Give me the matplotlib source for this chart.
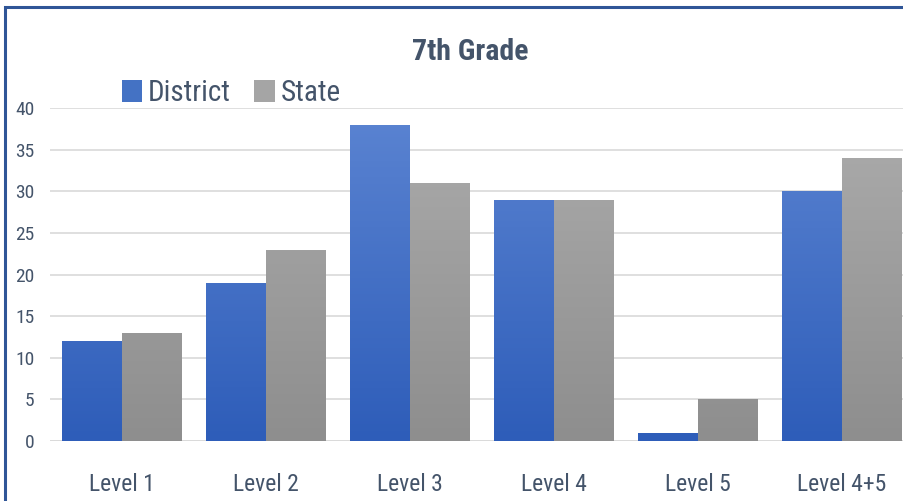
import numpy as np
import matplotlib
matplotlib.use('Agg')
import matplotlib.pyplot as plt
from matplotlib.patches import Rectangle

levels = ['Level 1', 'Level 2', 'Level 3', 'Level 4', 'Level 5', 'Level 4+5']
district = [12, 19, 38, 29, 1, 30]
state = [13, 23, 31, 29, 5, 34]

W, H = 904, 501

# the original uses a squeezed Calibri; Roboto Condensed is the nearest installed
plt.rcParams['font.family'] = ['Roboto Condensed', 'DejaVu Sans']
text_col = '#44546a'

fig = plt.figure(figsize=(W / 100, H / 100), dpi=100)
ax = fig.add_axes([50 / W, 1 - 441 / H, 864 / W, 333 / H])

x = np.arange(len(levels))
bw = 60 / 144
b1 = ax.bar(x - bw / 2, district, bw, color='#4472c4', zorder=2)
b2 = ax.bar(x + bw / 2, state, bw, color='#a5a5a5', zorder=2)


def gradient(bars, top, bottom):
    cmap = matplotlib.colors.LinearSegmentedColormap.from_list('g', [bottom, top])
    grad = np.linspace(0, 1, 100).reshape(-1, 1)
    for b in bars:
        x0 = b.get_x()
        im = ax.imshow(grad, cmap=cmap, aspect='auto', origin='lower',
                       extent=[x0, x0 + b.get_width(), 0, 40], zorder=3)
        im.set_clip_path(b)


gradient(b1, '#5b84d2', '#2e5db9')
gradient(b2, '#acacac', '#8e8e8e')

ax.set_xlim(-0.5, 5.5)
ax.set_ylim(0, 40)
ax.set_yticks(range(0, 41, 5))
ax.set_xticks(x)
ax.set_xticklabels(levels)
ax.grid(axis='y', color='#d9d9d9', linewidth=1.2, zorder=0)
for s in ax.spines.values():
    s.set_visible(False)
ax.tick_params(length=0, colors=text_col, labelsize=14)
ax.tick_params(axis='y', pad=11)
ax.tick_params(axis='x', pad=23, labelsize=17)
ax.axhline(0, color='#d9d9d9', linewidth=1.2, zorder=1)

fig.text(470 / W, 1 - 52 / H, '7th Grade', ha='center', va='center',
         fontsize=21.5, fontweight='bold', color=text_col)

# legend
ax.legend([b1, b2], ['District', 'State'], loc='center left',
          bbox_to_anchor=(122 / W, 1 - 93 / H), bbox_transform=fig.transFigure,
          ncol=2, frameon=False, fontsize=21, handlelength=0.7, handleheight=0.75,
          handletextpad=0.2, columnspacing=0.8, labelcolor=text_col,
          borderpad=0, borderaxespad=0)

fig.patches.append(Rectangle((5 / W, -0.1), 2, 1.1 - 7 / H, transform=fig.transFigure,
                             fill=False, edgecolor='#2f5597', linewidth=2.2))

fig.savefig('out.png', dpi=100)
